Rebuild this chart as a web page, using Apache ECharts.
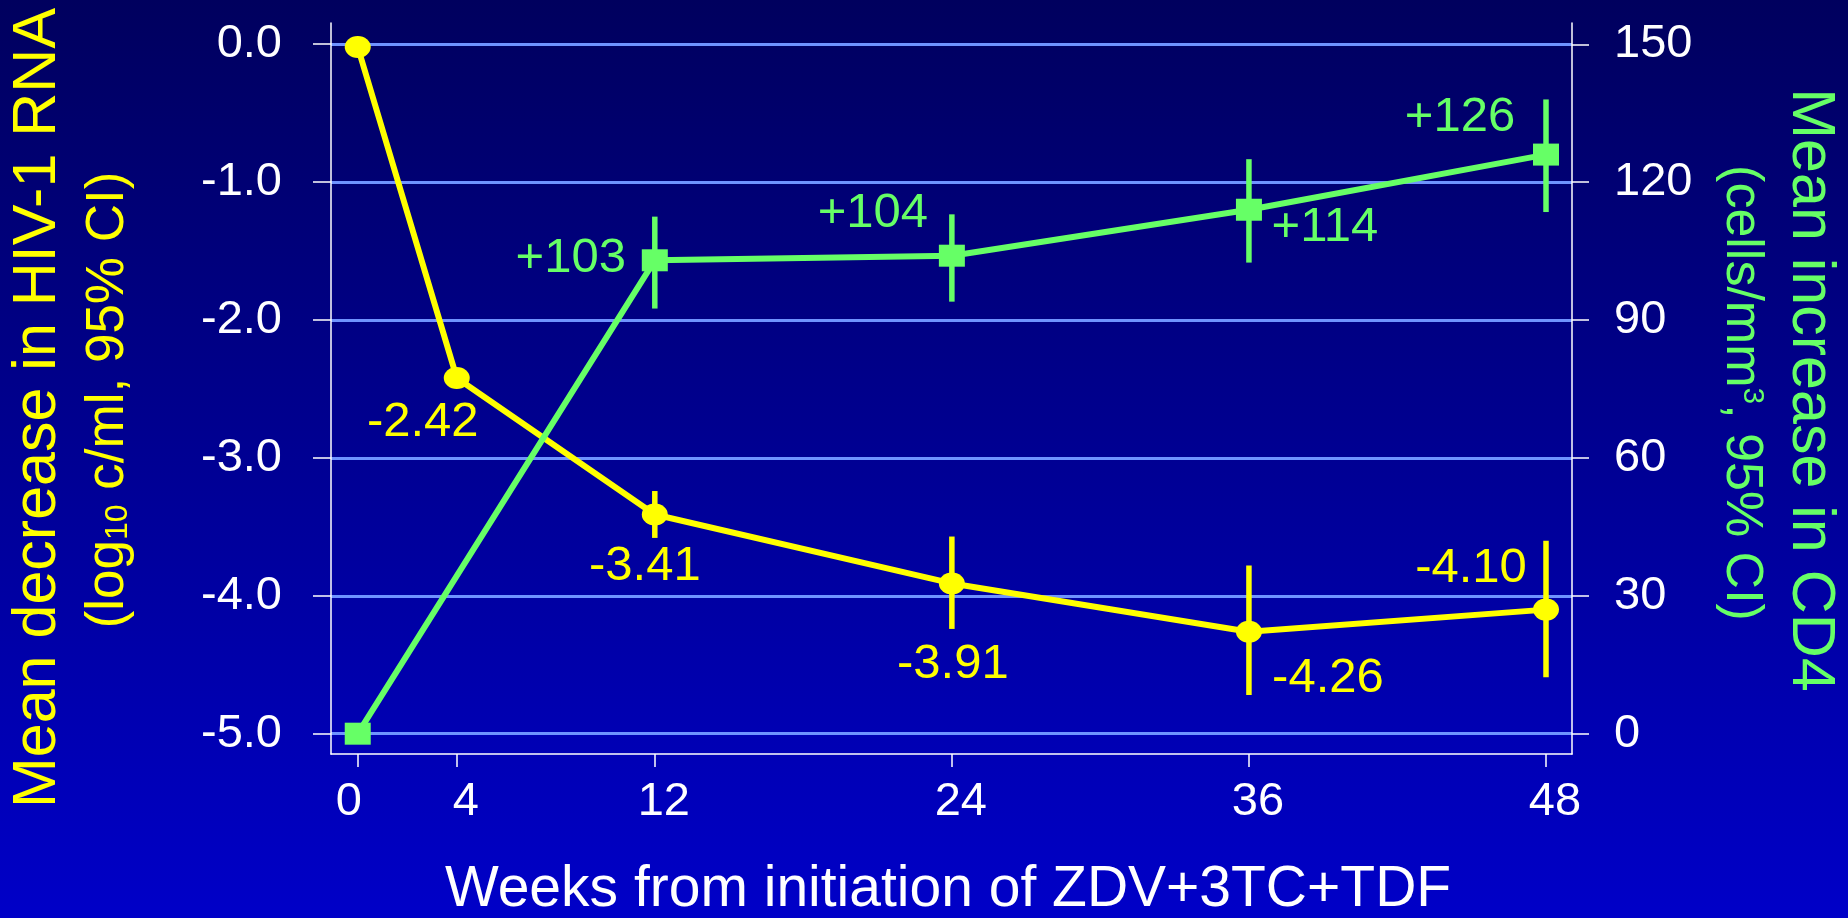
<!DOCTYPE html>
<html>
<head>
<meta charset="utf-8">
<title>HIV-1 RNA and CD4 change</title>
<script src="https://cdn.jsdelivr.net/npm/echarts@6.0.0/dist/echarts.min.js"></script>
<style>
    html, body { margin: 0; padding: 0; }
    #chart {
        width: 1848px;
        height: 918px;
        background: linear-gradient(to bottom, #00005e 0%, #0000c8 100%);
    }
</style>
</head>
<body>
<div id="chart"></div>
<script>
// data
var weeks = [0, 4, 12, 24, 36, 48];
var rnaMean = [-0.02, -2.42, -3.41, -3.91, -4.26, -4.10];
var rnaLow = [null, null, -3.58, -4.24, -4.72, -4.59];
var rnaHigh = [null, null, -3.24, -3.57, -3.78, -3.60];
var rnaText = ['', '-2.42', '-3.41', '-3.91', '-4.26', '-4.10'];

var cd4Weeks = [0, 12, 24, 36, 48];
var cd4Mean = [0, 103, 104, 114, 126];
var cd4Low = [null, 92.5, 94, 102.5, 113.5];
var cd4High = [null, 112.5, 113, 125, 138];
var cd4Text = ['', '+103', '+104', '+114', '+126'];

var weekTicks = [0, 4, 12, 24, 36, 48];
var rnaTicks = [-5, -4, -3, -2, -1, 0];
var cd4Ticks = [0, 30, 60, 90, 120, 150];

// where each value label sits relative to its marker (px)
var rnaLabelOffset = [null, [-34, 45], [-10, 52], [1, 81], [79, 47], [-75, -41]];
var cd4LabelOffset = [null, [-84, -2], [-79, -42], [76, 18], [-86, -37]];

var FONT = "'Liberation Sans', Arial, sans-serif";
var YELLOW = '#ffff00';
var GREEN = '#66ff66';
var ELLIPSE = 'path://M0,10A10,10 0 1,1 20,10A10,10 0 1,1 0,10Z';

function pointData(xs, ys, texts, offsets, color) {
    return xs.map(function (x, i) {
        var item = { value: [x, ys[i]] };
        if (texts[i]) {
            item.label = {
                show: true,
                formatter: texts[i],
                position: 'inside',
                offset: offsets[i],
                align: 'center',
                verticalAlign: 'middle',
                color: color,
                fontSize: 49,
                fontFamily: FONT
            };
        }
        return item;
    });
}

function errorData(xs, lo, hi) {
    var out = [];
    xs.forEach(function (x, i) {
        if (lo[i] != null) out.push([x, lo[i], hi[i]]);
    });
    return out;
}

function errorBar(color) {
    return function (params, api) {
        var a = api.coord([api.value(0), api.value(1)]);
        var b = api.coord([api.value(0), api.value(2)]);
        return {
            type: 'line',
            shape: { x1: a[0], y1: a[1], x2: b[0], y2: b[1] },
            style: { stroke: color, lineWidth: 5.5 }
        };
    };
}

var white = { color: '#ffffff', width: 1.5 };

var option = {
    animation: false,
    backgroundColor: 'transparent',
    grid: { left: 331, right: 276, top: 23, bottom: 164, containLabel: false },
    xAxis: {
        type: 'value',
        min: -1.08,
        max: 49.05,
        axisLine: { show: true, onZero: false, lineStyle: white },
        axisTick: { show: true, length: 13, customValues: weekTicks, lineStyle: white },
        axisLabel: {
            customValues: weekTicks,
            margin: 25,
            color: '#ffffff',
            fontSize: 47,
            fontFamily: FONT,
            formatter: function (v) {
                return v === 0 ? '{l|0}' : '{r|' + v + '}';
            },
            rich: {
                l: { padding: [0, 18, 0, 0], fontSize: 47, fontFamily: FONT, color: '#ffffff' },
                r: { padding: [0, 0, 0, 18], fontSize: 47, fontFamily: FONT, color: '#ffffff' }
            }
        },
        splitLine: { show: false }
    },
    yAxis: [
        {
            type: 'value',
            position: 'left',
            min: -5.147,
            max: 0.154,
            axisLine: { show: true, onZero: false, lineStyle: white },
            axisTick: { show: true, length: 18, customValues: rnaTicks, lineStyle: white },
            axisLabel: {
                customValues: rnaTicks,
                margin: 49,
                color: '#ffffff',
                fontSize: 47,
                fontFamily: FONT,
                formatter: function (v) { return v.toFixed(1); }
            },
            splitLine: { show: true, lineStyle: { color: '#6f93ff', width: 3 } }
        },
        {
            type: 'value',
            position: 'right',
            min: -4.42,
            max: 154.63,
            axisLine: { show: true, onZero: false, lineStyle: white },
            axisTick: { show: true, length: 17, customValues: cd4Ticks, lineStyle: white },
            axisLabel: {
                customValues: cd4Ticks,
                margin: 42,
                color: '#ffffff',
                fontSize: 47,
                fontFamily: FONT
            },
            splitLine: { show: false }
        }
    ],
    graphic: [
        {
            type: 'text', x: 38, y: 408, rotation: Math.PI / 2,
            style: {
                text: 'Mean decrease in HIV-1 RNA',
                fill: YELLOW, font: '61px ' + FONT,
                align: 'center', verticalAlign: 'middle'
            }
        },
        {
            type: 'text', x: 108, y: 400, rotation: Math.PI / 2,
            style: {
                text: '(log{sub|10} c/ml, 95% CI)',
                fill: YELLOW, font: '53px ' + FONT,
                align: 'center', verticalAlign: 'middle',
                rich: {
                    sub: { fontSize: 32, fontFamily: FONT, fill: YELLOW, lineHeight: 20, verticalAlign: 'bottom' }
                }
            }
        },
        {
            type: 'text', x: 1810, y: 390, rotation: -Math.PI / 2,
            style: {
                text: 'Mean increase in CD4',
                fill: GREEN, font: '61px ' + FONT,
                align: 'center', verticalAlign: 'middle'
            }
        },
        {
            type: 'text', x: 1741, y: 393, rotation: -Math.PI / 2,
            style: {
                text: '(cells/mm{sup|3}, 95% CI)',
                fill: GREEN, font: '52px ' + FONT,
                align: 'center', verticalAlign: 'middle',
                rich: {
                    sup: { fontSize: 30, fontFamily: FONT, fill: GREEN, lineHeight: 20, verticalAlign: 'top' }
                }
            }
        },
        {
            type: 'text', x: 948, y: 890,
            style: {
                text: 'Weeks from initiation of ZDV+3TC+TDF',
                fill: '#ffffff', font: '57px ' + FONT,
                align: 'center', verticalAlign: 'middle'
            }
        }
    ],
    series: [
        {
            type: 'custom',
            yAxisIndex: 0,
            z: 1,
            renderItem: errorBar(YELLOW),
            encode: { x: 0, y: [1, 2] },
            data: errorData(weeks, rnaLow, rnaHigh)
        },
        {
            type: 'custom',
            yAxisIndex: 1,
            z: 1,
            renderItem: errorBar(GREEN),
            encode: { x: 0, y: [1, 2] },
            data: errorData(cd4Weeks, cd4Low, cd4High)
        },
        {
            type: 'line',
            yAxisIndex: 0,
            z: 2,
            symbol: ELLIPSE,
            symbolSize: [26, 22],
            showSymbol: true,
            lineStyle: { color: YELLOW, width: 6 },
            itemStyle: { color: YELLOW },
            emphasis: { disabled: true },
            data: pointData(weeks, rnaMean, rnaText, rnaLabelOffset, YELLOW)
        },
        {
            type: 'line',
            yAxisIndex: 1,
            z: 3,
            symbol: 'rect',
            symbolSize: [26, 22],
            showSymbol: true,
            lineStyle: { color: GREEN, width: 6 },
            itemStyle: { color: GREEN },
            emphasis: { disabled: true },
            data: pointData(cd4Weeks, cd4Mean, cd4Text, cd4LabelOffset, GREEN)
        }
    ]
};

var chart = echarts.init(document.getElementById('chart'));
chart.setOption(option);
</script>
</body>
</html>
